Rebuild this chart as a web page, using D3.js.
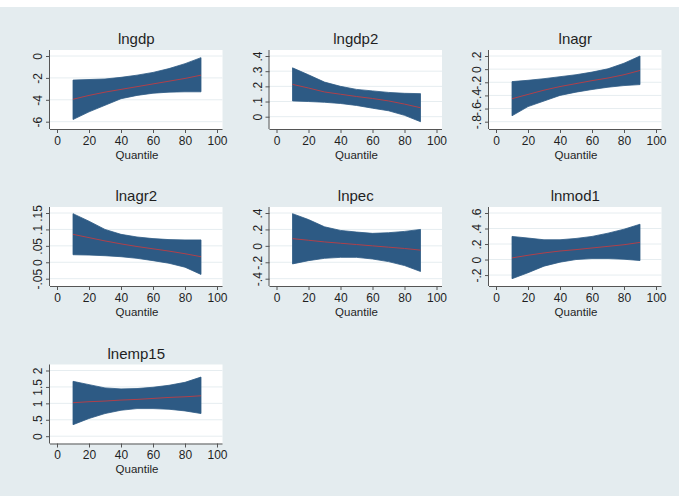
<!DOCTYPE html>
<html>
<head>
<meta charset="utf-8">
<script src="https://cdn.jsdelivr.net/npm/d3@7"></script>
<style>
  html, body { margin: 0; padding: 0; background: #ffffff; }
  svg { display: block; font-family: "Liberation Sans", Arial, sans-serif; }
</style>
</head>
<body>
<svg id="chart" width="679" height="496"></svg>
<script>
// Quantile regression coefficients with 95% confidence bands, by quantile
const quantiles = [10, 20, 30, 40, 50, 60, 70, 80, 90];
const xTicks = [0, 20, 40, 60, 80, 100];
const xTitle = "Quantile";

const lngdpCoef = [-3.95, -3.6, -3.3, -3.05, -2.8, -2.55, -2.3, -2.05, -1.75];
const lngdpLo   = [-5.8, -5.1, -4.5, -3.9, -3.6, -3.4, -3.3, -3.27, -3.27];
const lngdpHi   = [-2.2, -2.15, -2.1, -1.95, -1.75, -1.5, -1.15, -0.7, -0.15];
const lngdpTicks = [-6, -4, -2, 0];

const lngdp2Coef = [0.213, 0.189, 0.163, 0.148, 0.133, 0.12, 0.104, 0.083, 0.059];
const lngdp2Lo   = [0.104, 0.1, 0.095, 0.087, 0.074, 0.056, 0.039, 0.009, -0.033];
const lngdp2Hi   = [0.322, 0.276, 0.228, 0.2, 0.18, 0.17, 0.16, 0.154, 0.152];
const lngdp2Ticks = [0, 0.1, 0.2, 0.3, 0.4];

const lnagrCoef = [-0.45, -0.385, -0.32, -0.265, -0.22, -0.175, -0.135, -0.085, -0.02];
const lnagrLo   = [-0.71, -0.57, -0.485, -0.4, -0.35, -0.31, -0.275, -0.25, -0.235];
const lnagrHi   = [-0.19, -0.17, -0.145, -0.115, -0.085, -0.045, 0.005, 0.09, 0.2];
const lnagrTicks = [-0.8, -0.6, -0.4, -0.2, 0, 0.2];

const lnagr2Coef = [0.085, 0.075, 0.065, 0.056, 0.048, 0.041, 0.034, 0.026, 0.017];
const lnagr2Lo   = [0.023, 0.022, 0.02, 0.017, 0.012, 0.005, -0.003, -0.015, -0.037];
const lnagr2Hi   = [0.148, 0.125, 0.1, 0.085, 0.077, 0.072, 0.069, 0.068, 0.068];
const lnagr2Ticks = [-0.05, 0, 0.05, 0.1, 0.15];

const lnpecCoef = [0.088, 0.068, 0.048, 0.032, 0.016, 0, -0.016, -0.032, -0.052];
const lnpecLo   = [-0.22, -0.18, -0.152, -0.14, -0.14, -0.16, -0.192, -0.24, -0.312];
const lnpecHi   = [0.392, 0.32, 0.232, 0.188, 0.168, 0.152, 0.16, 0.176, 0.2];
const lnpecTicks = [-0.4, -0.2, 0, 0.2, 0.4];

const lnmod1Coef = [0.021, 0.055, 0.085, 0.11, 0.128, 0.149, 0.17, 0.191, 0.221];
const lnmod1Lo   = [-0.247, -0.17, -0.085, -0.034, 0, 0.013, 0.013, 0.004, -0.013];
const lnmod1Hi   = [0.298, 0.277, 0.255, 0.255, 0.272, 0.298, 0.34, 0.391, 0.455];
const lnmod1Ticks = [-0.2, 0, 0.2, 0.4, 0.6];

const lnemp15Coef = [1.02, 1.05, 1.07, 1.1, 1.12, 1.15, 1.18, 1.2, 1.23];
const lnemp15Lo   = [0.35, 0.54, 0.69, 0.79, 0.84, 0.84, 0.82, 0.77, 0.69];
const lnemp15Hi   = [1.67, 1.57, 1.47, 1.44, 1.45, 1.49, 1.55, 1.64, 1.8];
const lnemp15Ticks = [0, 0.5, 1, 1.5, 2];

const panels = [
  { name: "lngdp",   coef: lngdpCoef,   lo: lngdpLo,   hi: lngdpHi,   ticks: lngdpTicks },
  { name: "lngdp2",  coef: lngdp2Coef,  lo: lngdp2Lo,  hi: lngdp2Hi,  ticks: lngdp2Ticks },
  { name: "lnagr",   coef: lnagrCoef,   lo: lnagrLo,   hi: lnagrHi,   ticks: lnagrTicks },
  { name: "lnagr2",  coef: lnagr2Coef,  lo: lnagr2Lo,  hi: lnagr2Hi,  ticks: lnagr2Ticks },
  { name: "lnpec",   coef: lnpecCoef,   lo: lnpecLo,   hi: lnpecHi,   ticks: lnpecTicks },
  { name: "lnmod1",  coef: lnmod1Coef,  lo: lnmod1Lo,  hi: lnmod1Hi,  ticks: lnmod1Ticks },
  { name: "lnemp15", coef: lnemp15Coef, lo: lnemp15Lo, hi: lnemp15Hi, ticks: lnemp15Ticks }
];

// Layout of the 3x3 grid of small multiples
const W = 679, H = 496;
const colX = [57, 276.5, 496];     // pixel of quantile 0 in each column
const rowTop = [50, 207, 364.5];   // top of plot region in each row
const xSpan = 160;                 // pixels from quantile 0 to 100
const boxH = 79;                   // plot region height
const padL = 7, padR = 5.5, padT = 6, padB = 7.3;

const bandFill = "#2d5a84";
const lineColor = "#b0404a";
const bgColor = "#e4ecef";
const gridColor = "#e6edf0";
const axisColor = "#555555";
const textColor = "#1f1f1f";

// Stata-style numbers: no leading zero (".2", "-.05")
const fmt = v => {
  let s = String(+v.toFixed(4));
  return s.replace(/^(-?)0\./, "$1.");
};

const svg = d3.select("#chart");

svg.append("rect")
  .attr("x", 0).attr("y", 7).attr("width", W).attr("height", H - 7)
  .attr("fill", bgColor);

panels.forEach((p, i) => {
  const col = i % 3, row = Math.floor(i / 3);
  const left = colX[col] - padL;
  const right = colX[col] + xSpan + padR;
  const top = rowTop[row];
  const bottom = top + boxH;

  const x = d3.scaleLinear().domain([0, 100]).range([colX[col], colX[col] + xSpan]);
  const yDom = d3.extent([...p.ticks, ...p.lo, ...p.hi]);
  const y = d3.scaleLinear().domain(yDom).range([bottom - padB, top + padT]);

  const g = svg.append("g");

  // plot region
  g.append("rect")
    .attr("x", left).attr("y", top)
    .attr("width", right - left).attr("height", bottom - top)
    .attr("fill", "#ffffff");

  // horizontal gridlines
  g.selectAll(".grid").data(p.ticks).join("line")
    .attr("x1", left).attr("x2", right)
    .attr("y1", d => y(d)).attr("y2", d => y(d))
    .attr("stroke", gridColor).attr("stroke-width", 1);

  const rows = quantiles.map((q, k) => ({ q, c: p.coef[k], lo: p.lo[k], hi: p.hi[k] }));

  // confidence band
  g.append("path")
    .datum(rows)
    .attr("d", d3.area().x(d => x(d.q)).y0(d => y(d.lo)).y1(d => y(d.hi)))
    .attr("fill", bandFill)
    .attr("stroke", bandFill)
    .attr("stroke-width", 0.8);

  // point estimate
  g.append("path")
    .datum(rows)
    .attr("d", d3.line().x(d => x(d.q)).y(d => y(d.c)))
    .attr("fill", "none")
    .attr("stroke", lineColor)
    .attr("stroke-width", 1);

  // x axis
  const xAxis = g.append("g")
    .attr("transform", `translate(0,${bottom})`)
    .call(d3.axisBottom(x).tickValues(xTicks).tickSize(4).tickPadding(3).tickSizeOuter(0));
  xAxis.select(".domain").attr("d", `M${left},0.5H${right}`);
  xAxis.selectAll("line").attr("stroke", axisColor);
  xAxis.select(".domain").attr("stroke", axisColor);
  xAxis.selectAll("text")
    .attr("fill", textColor)
    .style("font-size", "12px")
    .style("font-family", "'Liberation Sans', Arial, sans-serif");

  // y axis with rotated labels
  const yAxis = g.append("g")
    .attr("transform", `translate(${left},0)`)
    .call(d3.axisLeft(y).tickValues(p.ticks).tickFormat(fmt).tickSize(4).tickSizeOuter(0));
  yAxis.select(".domain").attr("d", `M-0.5,${top}V${bottom}`).attr("stroke", axisColor);
  yAxis.selectAll("line").attr("stroke", axisColor);
  yAxis.selectAll("text")
    .attr("x", null).attr("dy", null)
    .attr("text-anchor", "middle")
    .attr("transform", "translate(-8,0) rotate(-90)")
    .attr("fill", textColor)
    .style("font-size", "12px")
    .style("font-family", "'Liberation Sans', Arial, sans-serif");

  // axis title
  g.append("text")
    .attr("x", (colX[col] + colX[col] + xSpan) / 2)
    .attr("y", bottom + 29.5)
    .attr("text-anchor", "middle")
    .attr("fill", textColor)
    .style("font-size", "11.5px")
    .text(xTitle);

  // panel title
  g.append("text")
    .attr("x", (left + right) / 2)
    .attr("y", top - 6)
    .attr("text-anchor", "middle")
    .attr("fill", textColor)
    .style("font-size", "15px")
    .text(p.name);
});
</script>
</body>
</html>
